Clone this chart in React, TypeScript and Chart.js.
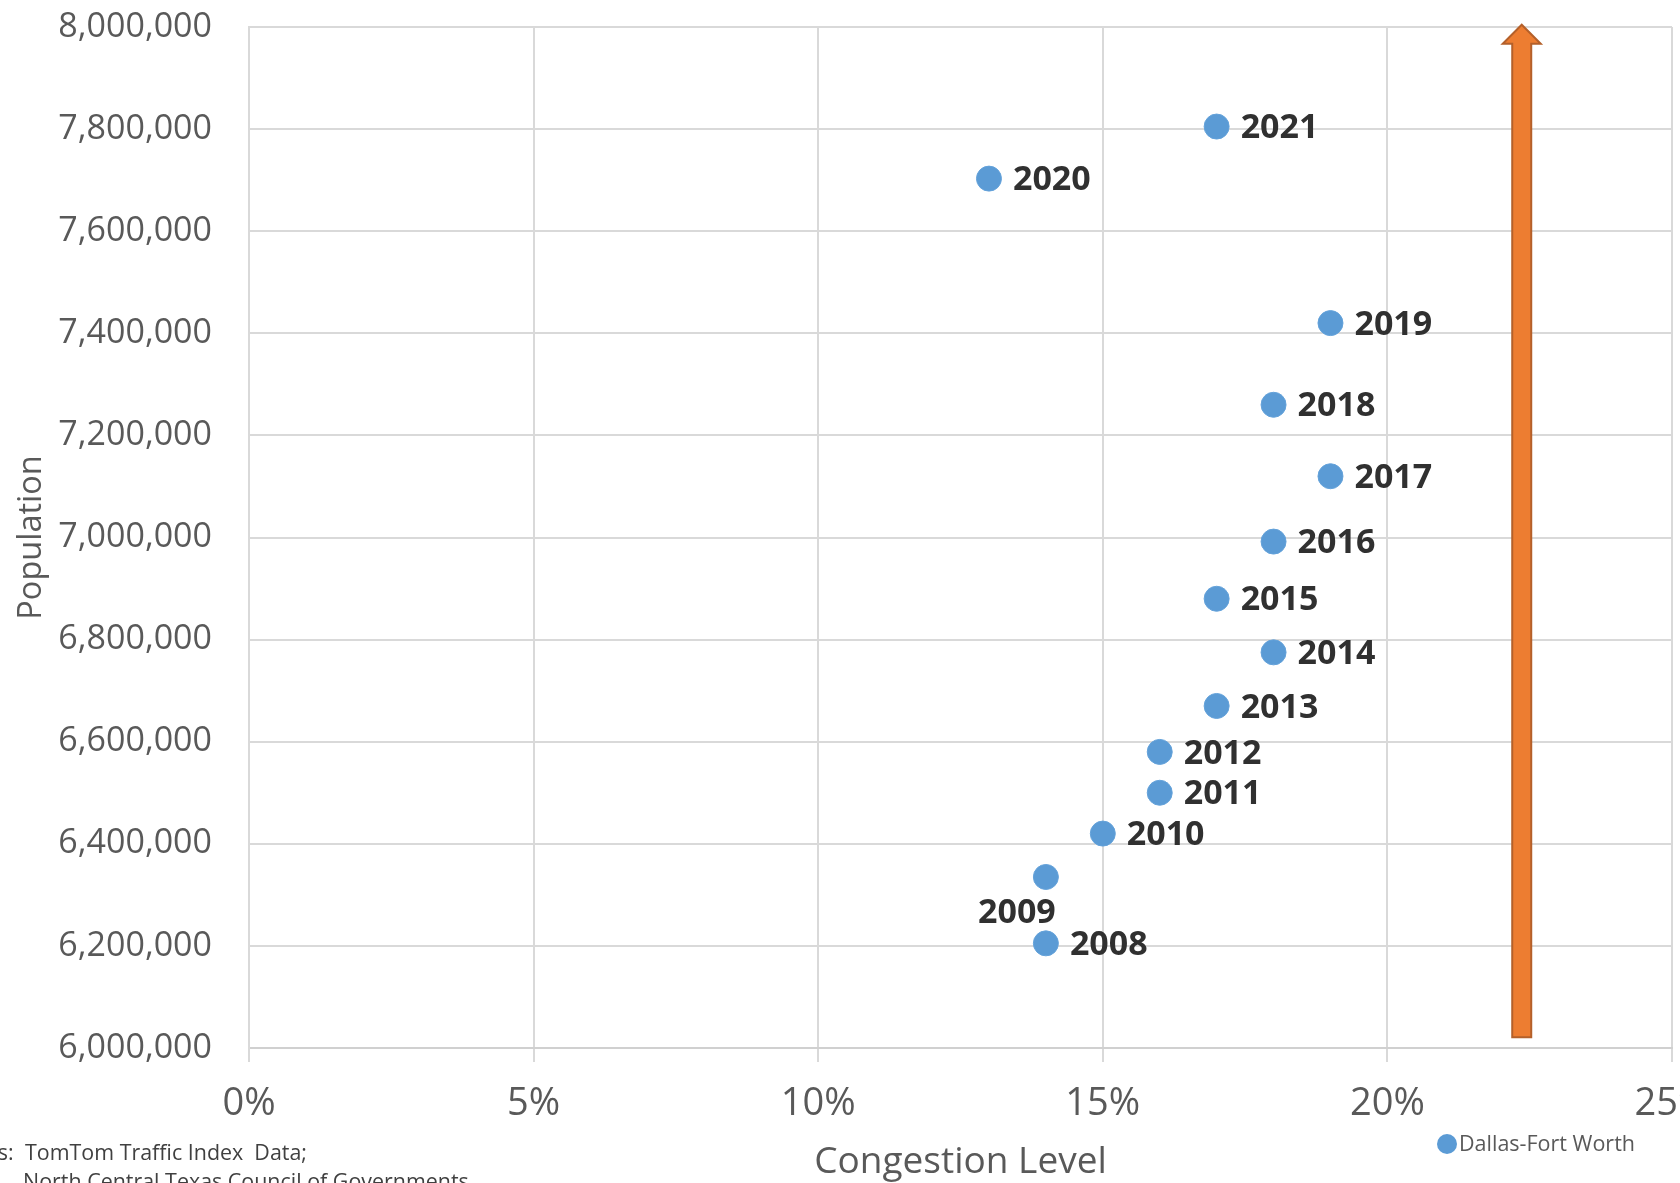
import React, { useEffect, useRef } from 'react';
import { Chart, registerables } from 'chart.js';

Chart.register(...registerables);

// ---- data ----
const years = ['2008', '2009', '2010', '2011', '2012', '2013', '2014', '2015', '2016', '2017', '2018', '2019', '2020', '2021'];
const congestion = [14, 14, 15, 16, 16, 17, 18, 17, 18, 19, 18, 19, 13, 17];
const population = [6205000, 6335000, 6420000, 6500000, 6580000, 6670000, 6775000, 6880000, 6992000, 7120000, 7260000, 7420000, 7703000, 7805000];
const xTickValues = [0, 5, 10, 15, 20, 25];
const yTickValues = [6000000, 6200000, 6400000, 6600000, 6800000, 7000000, 7200000, 7400000, 7600000, 7800000, 8000000];
const seriesName = 'Dallas-Fort Worth';
const xTitle = 'Congestion Level';
const yTitle = 'Population';
const sourceLine1Prefix = 'Sources: ';
const sourceLine1 = 'TomTom Traffic Index  Data;';
const sourceLine2 = 'North Central Texas Council of Governments';
const labelsBelow = ['2009'];

// arrow annotation (in data units)
const arrowX = 22.36;
const arrowFrom = 6021000;
const arrowTo = 8004500;

const FONT = "'Open Sans', 'Noto Sans', sans-serif";
const BLUE = '#5B9BD5';
const GRID = '#d9d9d9';
const TICK_TEXT = '#595959';

const labelPlugin = {
  id: 'pointLabels',
  afterDatasetsDraw(chart: any) {
    const ctx = chart.ctx;
    const meta = chart.getDatasetMeta(0);
    ctx.save();
    ctx.font = `bold 34px ${FONT}`;
    ctx.fillStyle = '#303030';
    meta.data.forEach((pt: any, i: number) => {
      const { x, y } = pt.getProps(['x', 'y'], true);
      const label = years[i];
      ctx.textBaseline = 'middle';
      if (labelsBelow.includes(label)) {
        ctx.textAlign = 'center';
        ctx.fillText(label, x - 29, y + 36);
      } else {
        ctx.textAlign = 'left';
        ctx.fillText(label, x + 24, y + 2);
      }
    });
    ctx.restore();
  },
};

const arrowPlugin = {
  id: 'arrow',
  afterDatasetsDraw(chart: any) {
    const ctx = chart.ctx;
    const xs = chart.scales.x;
    const ys = chart.scales.y;
    const x = xs.getPixelForValue(arrowX);
    const yb = ys.getPixelForValue(arrowFrom);
    const yt = ys.getPixelForValue(arrowTo);
    const sw = 9.5;
    const hw = 19;
    const hh = 19;
    ctx.save();
    ctx.beginPath();
    ctx.moveTo(x - sw, yb);
    ctx.lineTo(x - sw, yt + hh);
    ctx.lineTo(x - hw, yt + hh);
    ctx.lineTo(x, yt);
    ctx.lineTo(x + hw, yt + hh);
    ctx.lineTo(x + sw, yt + hh);
    ctx.lineTo(x + sw, yb);
    ctx.closePath();
    ctx.fillStyle = '#ED7D31';
    ctx.fill();
    ctx.lineWidth = 2;
    ctx.strokeStyle = '#B4602A';
    ctx.stroke();
    ctx.restore();
  },
};

const extrasPlugin = {
  id: 'extras',
  afterDraw(chart: any) {
    const ctx = chart.ctx;
    ctx.save();
    // legend
    ctx.beginPath();
    ctx.arc(1447, 1144, 10, 0, Math.PI * 2);
    ctx.fillStyle = BLUE;
    ctx.fill();
    ctx.font = `21.5px ${FONT}`;
    ctx.fillStyle = TICK_TEXT;
    ctx.textAlign = 'left';
    ctx.textBaseline = 'alphabetic';
    ctx.fillText(seriesName, 1459, 1151);

    // sources
    ctx.font = `22px ${FONT}`;
    ctx.fillStyle = '#404040';
    const target = 282;
    const w = ctx.measureText(sourceLine1).width;
    const sx = target / w;
    ctx.save();
    ctx.translate(25, 0);
    ctx.scale(sx, 1);
    const pw = ctx.measureText(sourceLine1Prefix).width;
    ctx.fillText(sourceLine1Prefix, -pw - 6, 1160);
    ctx.fillText(sourceLine1, 0, 1160);
    ctx.fillText(sourceLine2, -2 / sx, 1189);
    ctx.restore();
    ctx.restore();
  },
};

export default function App() {
  const canvasRef = useRef<HTMLCanvasElement | null>(null);

  useEffect(() => {
    if (!canvasRef.current) return;
    Chart.defaults.font.family = FONT;
    const chart = new Chart(canvasRef.current, {
      type: 'scatter',
      data: {
        datasets: [
          {
            label: seriesName,
            data: congestion.map((c, i) => ({ x: c, y: population[i] })),
            backgroundColor: BLUE,
            borderColor: '#64a2da',
            borderWidth: 1,
            pointRadius: 12.5,
            pointHoverRadius: 12.5,
            clip: false as any,
          },
        ],
      },
      options: {
        animation: false,
        responsive: true,
        maintainAspectRatio: false,
        devicePixelRatio: 1,
        layout: { autoPadding: false, padding: { left: 0, right: 8, top: 27, bottom: 0 } },
        plugins: {
          legend: { display: false },
          tooltip: { enabled: false },
          title: { display: false },
        },
        scales: {
          x: {
            type: 'linear',
            min: 0,
            max: 25,
            afterBuildTicks: (scale: any) => {
              scale.ticks = xTickValues.map((v) => ({ value: v }));
            },
            afterFit: (scale: any) => {
              scale.paddingLeft = 0;
              scale.paddingRight = 0;
              scale.height = 135;
            },
            ticks: {
              callback: (v: any) => `${v}%`,
              color: TICK_TEXT,
              font: { size: 38, family: FONT },
              padding: 19,
              maxRotation: 0,
              autoSkip: false,
            },
            grid: {
              color: GRID,
              lineWidth: 2,
              drawTicks: true,
              tickLength: 14,
              tickColor: GRID,
            },
            border: { display: true, color: '#d0d0d0', width: 2 },
            title: {
              display: true,
              text: xTitle,
              color: TICK_TEXT,
              font: { size: 37, family: FONT, lineHeight: 1.0 },
              padding: { top: 0, bottom: 2 },
            },
          },
          y: {
            type: 'linear',
            min: 6000000,
            max: 8000000,
            afterBuildTicks: (scale: any) => {
              scale.ticks = yTickValues.map((v) => ({ value: v }));
            },
            afterFit: (scale: any) => {
              scale.paddingTop = 0;
              scale.paddingBottom = 0;
              scale.width = 249;
            },
            ticks: {
              callback: (v: any) => Number(v).toLocaleString('en-US'),
              color: TICK_TEXT,
              font: { size: 34, family: FONT },
              padding: 37,
              autoSkip: false,
            },
            grid: {
              color: GRID,
              lineWidth: 2,
              drawTicks: false,
            },
            border: { display: true, color: GRID, width: 2 },
            title: {
              display: true,
              text: yTitle,
              color: TICK_TEXT,
              font: { size: 32.5, family: FONT },
              padding: { top: 12, bottom: 0 },
            },
          },
        },
      },
      plugins: [arrowPlugin, labelPlugin, extrasPlugin],
    } as any);
    return () => chart.destroy();
  }, []);

  return (
    <div
      style={{
        position: 'absolute',
        left: 0,
        top: 0,
        width: 1680,
        height: 1183,
        overflow: 'hidden',
        background: '#ffffff',
      }}
    >
      <div style={{ position: 'relative', width: 1680, height: 1183 }}>
        <canvas ref={canvasRef} />
      </div>
    </div>
  );
}
